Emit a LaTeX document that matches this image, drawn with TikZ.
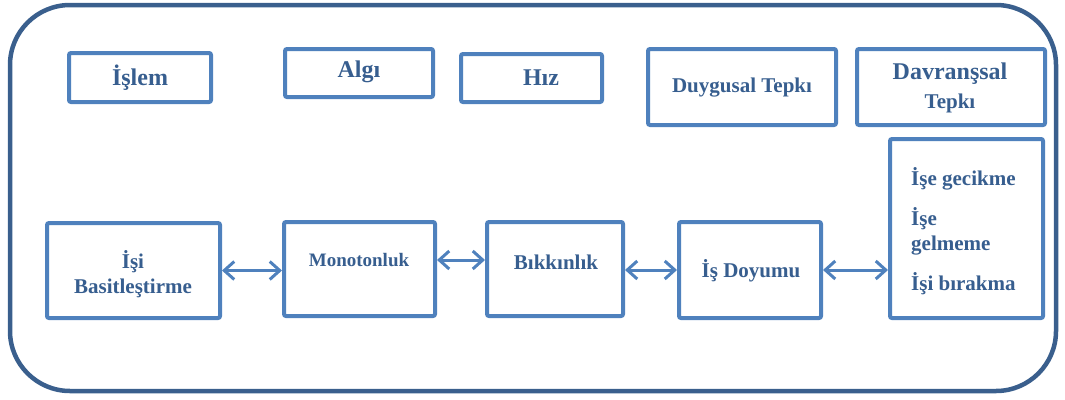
\documentclass[tikz,border=0pt]{standalone}
\usepackage{fontspec}
\setmainfont{Liberation Serif}
\usetikzlibrary{arrows.meta}
\definecolor{frameblue}{HTML}{3A5F8D}
\definecolor{boxblue}{HTML}{4F81BD}
\definecolor{txtblue}{HTML}{375E8F}
\tikzset{
  box/.style={draw=boxblue, line width=4pt, fill=white, rounded corners=2pt, inner sep=0pt},
  lbl/.style={text=txtblue, font=\bfseries\fontsize{21}{25}\selectfont, inner sep=0pt},
  lblbig/.style={lbl, font=\bfseries\fontsize{24}{29}\selectfont},
  lblsmall/.style={lbl, font=\bfseries\fontsize{19}{23}\selectfont},
  link/.style={draw=boxblue, line width=3pt, {Straight Barb[length=10pt,width=18pt]}-{Straight Barb[length=10pt,width=18pt]}}
}
\begin{document}
\begin{tikzpicture}[x=1pt,y=-1pt]
\useasboundingbox (0,0) rectangle (1065,399);
% outer frame
\draw[frameblue, line width=4.5pt, rounded corners=60pt] (10,5) rectangle (1056,391);

% top row
\node[box, minimum width=142pt, minimum height=49pt] (islem) at (140,77.5) {};
\node[box, minimum width=148pt, minimum height=48pt] (algi) at (359,73) {};
\node[box, minimum width=141pt, minimum height=48pt] (hiz) at (531.5,78) {};
\node[box, minimum width=188pt, minimum height=76pt] (duygu) at (742,87) {};
\node[box, minimum width=188pt, minimum height=76pt] (davran) at (951,87) {};

\node[lblbig] (tislem) at (140,78) {İşlem};
\node[lblbig] (talgi) at (359,72) {Algı};
\node[lblbig] (thiz) at (541,78) {Hız};
\node[lbl] (tduygu) at (742,88) {Duygusal Tepkı};
\node[lblbig] (tdavran) at (950,74) {Davranşsal};
\node[lbl] (ttepki) at (950,103) {Tepkı};

% bottom row
\node[box, minimum width=173pt, minimum height=95pt] (basit) at (133.5,270.5) {};
\node[box, minimum width=151pt, minimum height=94pt] (mono) at (359.5,269) {};
\node[box, minimum width=136pt, minimum height=94pt] (bikk) at (555,269) {};
\node[box, minimum width=142pt, minimum height=96pt] (doyum) at (750,270) {};
\node[box, minimum width=153pt, minimum height=179pt] (sonuc) at (966.5,228.5) {};

\node[lbl, align=center] (tbasit) at (133,274) {İşi\\Basitleştirme};
\node[lblsmall] (tmono) at (359,260) {Monotonluk};
\node[lbl] (tbikk) at (556,262) {Bıkkınlık};
\node[lbl] (tdoyum) at (751,271) {İş Doyumu};
\node[lbl, anchor=west] (tgecik) at (911,179) {İşe gecikme};
\node[lbl, anchor=west, align=left] (tgelme) at (911,231) {İşe\\gelmeme};
\node[lbl, anchor=west] (tbirak) at (911,284) {İşi bırakma};

% connectors
\draw[link] (basit.east) -- (mono.west |- basit.east);
\draw[link] ([yshift=9pt]mono.east) -- ([yshift=9pt]mono.east -| bikk.west);
\draw[link] ([yshift=-1pt]bikk.east) -- ([yshift=-1pt]bikk.east -| doyum.west);
\draw[link] (doyum.east) -- (sonuc.west |- doyum.east);
\end{tikzpicture}
\end{document}
